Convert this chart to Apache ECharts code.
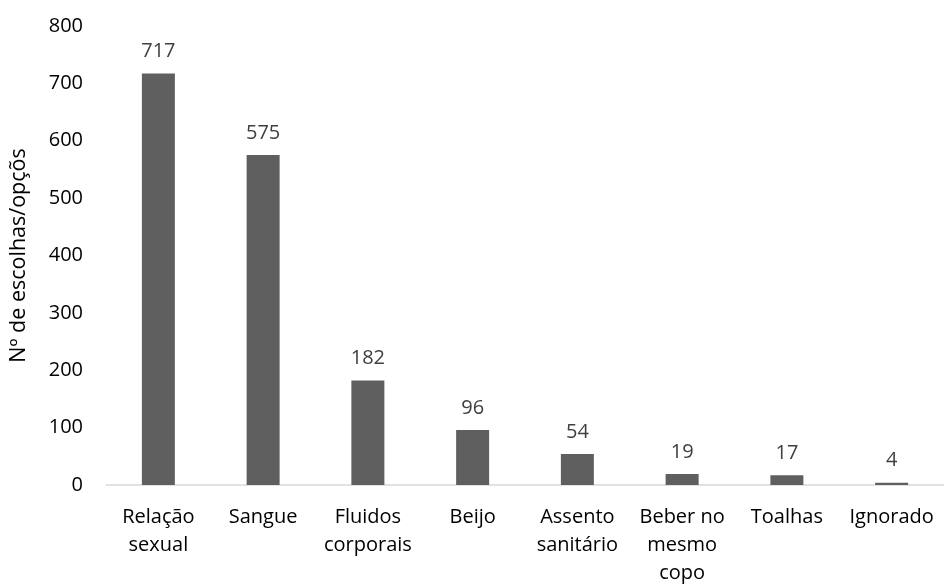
<!DOCTYPE html>
<html><head><meta charset="utf-8">
<script src="https://cdn.jsdelivr.net/npm/echarts@6/dist/echarts.min.js"></script>
<style>html,body{margin:0;padding:0;background:#fff}#c{width:944px;height:587px}</style>
</head><body><div id="c"></div>
<script>
const categories = ["Relação\nsexual","Sangue","Fluidos\ncorporais","Beijo","Assento\nsanitário","Beber no\nmesmo\ncopo","Toalhas","Ignorado"];
const values = [717,575,182,96,54,19,17,4];
const yTicks = {min:0,max:800,interval:100};
const yName = "Nº de escolhas/opçõs";
const chart = echarts.init(document.getElementById('c'));
const font = "'Open Sans', sans-serif";
chart.setOption({
  animation:false,
  grid:{left:105,right:0,top:26,bottom:95,containLabel:false},
  xAxis:{type:'category',data:categories,
    axisLine:{lineStyle:{color:'#d9d9d9',width:1.5}},axisTick:{show:false},
    axisLabel:{color:'#000',fontFamily:font,fontSize:20,lineHeight:28,margin:18,interval:0}},
  yAxis:{type:'value',min:yTicks.min,max:yTicks.max,interval:yTicks.interval,
    name:yName,nameLocation:'middle',nameGap:76,nameRotate:90,
    nameTextStyle:{color:'#000',fontFamily:font,fontSize:21.5},
    splitLine:{show:false},axisLine:{show:false},axisTick:{show:false},
    axisLabel:{color:'#000',fontFamily:font,fontSize:20,margin:23}},
  series:[{type:'bar',data:values,barWidth:33,
    itemStyle:{color:'#5f5f5f'},
    label:{show:true,position:'top',distance:12,color:'#404040',fontFamily:font,fontSize:20}}]
});
</script></body></html>
